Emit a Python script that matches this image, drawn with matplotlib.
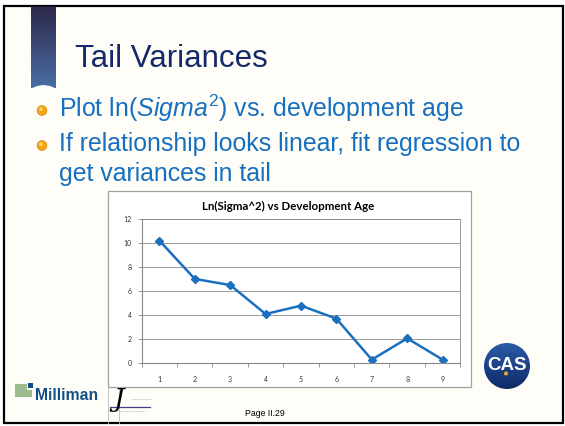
import numpy as np
import matplotlib
matplotlib.use("Agg")
import matplotlib.pyplot as plt
from matplotlib.patches import Rectangle, Polygon, Circle

# data: ln(sigma^2) by development age
ages = [1, 2, 3, 4, 5, 6, 7, 8, 9]
ln_sigma2 = [10.22, 7.02, 6.51, 4.09, 4.79, 3.70, 0.28, 2.06, 0.28]
y_ticks = [0, 2, 4, 6, 8, 10, 12]

slide_title = "Tail Variances"
bullets = [
    r"Plot ln($\mathit{Sigma}^{2}$) vs. development age",
    "If relationship looks linear, fit regression to",
    "get variances in tail",
]
chart_title = "Ln(Sigma^2) vs Development Age"
page_label = "Page II.29"

plt.rcParams["mathtext.fontset"] = "custom"
plt.rcParams["mathtext.rm"] = "Liberation Sans"
plt.rcParams["mathtext.it"] = "Liberation Sans:italic"

W, H = 565, 426
fig = plt.figure(figsize=(W / 100, H / 100), dpi=100)
fig.patch.set_facecolor("white")

# slide canvas in pixel coordinates
bg = fig.add_axes([0, 0, 1, 1])
bg.set_xlim(0, W)
bg.set_ylim(H, 0)
bg.axis("off")

bg.add_patch(Rectangle((4, 5.5), 558.5, 417.5, facecolor="#FEFDF8",
                       edgecolor="black", lw=1.6, zorder=0))

# ribbon with gradient and notched bottom
grad = np.linspace(0, 1, 100).reshape(-1, 1)
cmap = matplotlib.colors.LinearSegmentedColormap.from_list("rib", ["#2D2848", "#4A6EA6"])
im = bg.imshow(grad, cmap=cmap, extent=(31, 56, 88.5, 6.5), aspect="auto", zorder=1)
rib = Polygon([(31, 6.5), (56, 6.5), (56, 88.5), (50, 86), (43.5, 85), (37, 86), (31, 88.5)],
              closed=True, transform=bg.transData)
im.set_clip_path(rib)

bg.text(75, 59, slide_title, fontsize=22.5, color="#14286A", family="Liberation Sans",
        va="center", ha="left")

# bullet points
bullet_rows = [(116.5, True), (151.5, True), (181.5, False)]
for (yb, dot), txt in zip(bullet_rows, bullets):
    bg.text(59, yb, txt, fontsize=17.9, color="#1670BF", family="Liberation Sans",
            va="baseline", ha="left")
    if dot:
        bg.add_patch(Circle((42, yb - 6), 4.8, facecolor="#F2A516", edgecolor="#E08A00",
                            lw=0.6, zorder=3))
        bg.add_patch(Circle((41, yb - 7.3), 1.9, facecolor="#FFD36A", edgecolor="none",
                            zorder=4))

# chart frame
bg.add_patch(Rectangle((107.5, 191), 363, 196, facecolor="white", edgecolor="#A0A0A0",
                       lw=0.9, zorder=2))
bg.text(288, 206, chart_title, fontsize=8.3, fontweight="bold", color="black",
        family="Lato", ha="center", va="center", zorder=3)

# footer: Milliman logo
bg.add_patch(Polygon([(15, 384), (27, 384), (27, 389.5), (32, 389.5), (32, 396.5), (15, 396.5)],
                     closed=True, facecolor="#9DBB8C", edgecolor="none"))
bg.add_patch(Rectangle((28, 382.5), 5, 5, facecolor="#0F4C85", edgecolor="none"))
bg.text(35, 396, "Milliman", fontsize=11.3, fontweight="bold", color="#124F86",
        family="Liberation Sans", va="center", ha="left")

# small "J" logo
bg.text(113, 399, "J", fontsize=19, color="black", family="DejaVu Serif", style="italic",
        va="center", ha="left")
bg.plot([108, 108], [387, 423], color="#BBBBBB", lw=0.6)
bg.plot([119, 119], [387, 423], color="#BBBBBB", lw=0.6)
bg.plot([110, 150], [407, 407], color="#4A3A8A", lw=0.9)
bg.text(131, 399, "Actuarial Analytics", fontsize=1.6, color="#888888", va="center")
bg.text(112, 411.5, "Actuarial Consulting Services", fontsize=1.6, color="#888888", va="center")

bg.text(265, 413, page_label, fontsize=6.3, color="black", family="Liberation Sans",
        ha="center", va="center")

# CAS logo
cas_grad = np.linspace(0, 1, 100).reshape(-1, 1)
cas_cmap = matplotlib.colors.LinearSegmentedColormap.from_list("cas", ["#2A5BA8", "#0E2A66"])
cim = bg.imshow(cas_grad, cmap=cas_cmap, extent=(484, 530, 389, 343), aspect="auto", zorder=2)
disc = Circle((507, 366), 23, transform=bg.transData)
cim.set_clip_path(disc)
bg.text(507, 366, "CAS", fontsize=13.5, fontweight="bold", color="white", family="Liberation Sans",
        ha="center", va="center", zorder=3)
bg.add_patch(Circle((506, 373.5), 2.0, facecolor="#F5A623", edgecolor="none", zorder=4))

# chart axes
ax = fig.add_axes([141.7 / W, 1 - 363 / H, 318.6 / W, 143.7 / H])
ax.set_zorder(3)
ax.set_facecolor("white")
ax.plot(ages, ln_sigma2, color="#1B6FBF", lw=1.8, marker="D", markersize=3.6,
        markerfacecolor="#1B6FBF", markeredgecolor="#1B6FBF")
ax.set_xlim(0.5, 9.5)
ax.set_ylim(0, 12)
ax.set_yticks(y_ticks)
ax.set_xticks(ages)
ax.set_xticks(np.arange(0.5, 10, 1.0), minor=True)
ax.yaxis.grid(True, color="#8C8C8C", lw=0.6)
ax.set_axisbelow(True)
for side in ["top", "right"]:
    ax.spines[side].set_color("#8C8C8C")
    ax.spines[side].set_linewidth(0.6)
for side in ["left", "bottom"]:
    ax.spines[side].set_color("#888888")
    ax.spines[side].set_linewidth(0.8)
ax.tick_params(axis="y", length=3, width=0.6, color="#888888", labelsize=5,
               labelcolor="#333333", pad=4)
ax.tick_params(axis="x", which="major", length=0, labelsize=5, labelcolor="#333333", pad=9)
ax.tick_params(axis="x", which="minor", length=3, width=0.6, color="#888888")
for lbl in ax.get_xticklabels() + ax.get_yticklabels():
    lbl.set_family("Lato")

fig.savefig("out.png", dpi=100)
